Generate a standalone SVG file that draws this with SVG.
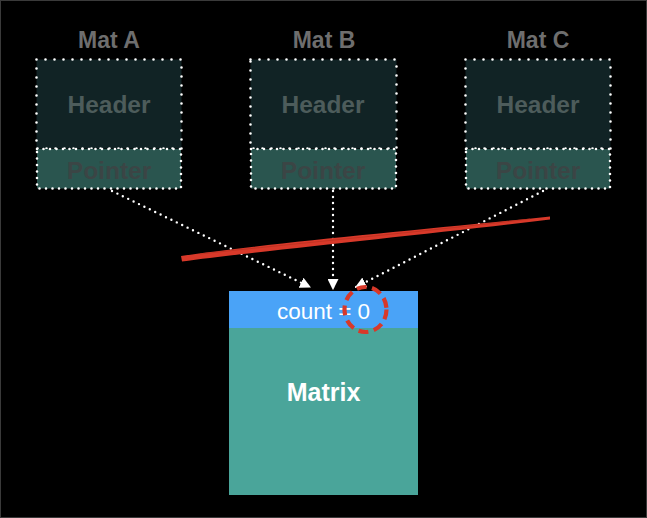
<svg xmlns="http://www.w3.org/2000/svg" width="647" height="518" viewBox="0 0 647 518">
<defs>
<style>
.title{font-family:"Liberation Sans",Arial,sans-serif;font-weight:bold;font-size:23px;fill:#6e6e6e;text-anchor:middle}
.hdr{fill:#112325;stroke:#ffffff;stroke-width:2.6;stroke-dasharray:0 9;stroke-linecap:round}
.ptr{fill:#2a554f;stroke:#ffffff;stroke-width:2.6;stroke-dasharray:0 6.5;stroke-linecap:round}
.htxt{font-family:"Liberation Sans",Arial,sans-serif;font-weight:bold;font-size:24.5px;fill:#4d5c5b;text-anchor:middle}
.ptxt{font-family:"Liberation Sans",Arial,sans-serif;font-weight:bold;font-size:24.5px;fill:#3b4545;text-anchor:middle}
.conn{fill:none;stroke:#ffffff;stroke-width:2.4;stroke-dasharray:0 6;stroke-linecap:round}
</style>
<marker id="arr" viewBox="0 0 10 10" refX="9" refY="5" markerWidth="11" markerHeight="11" markerUnits="userSpaceOnUse" orient="auto">
<path d="M0,0 L10,5 L0,10 z" fill="#ffffff"/>
</marker>
</defs>
<rect x="0" y="0" width="647" height="518" fill="#000000"/>
<rect x="0.5" y="0.5" width="646" height="517" fill="none" stroke="#3a3a3a" stroke-width="1"/>

<g id="matA">
<text class="title" x="109" y="48">Mat A</text>
<rect class="hdr" x="36.5" y="59.5" width="145" height="89"/>
<rect class="ptr" x="37" y="149" width="144" height="39.5"/>
<text class="htxt" x="109" y="113">Header</text>
<text class="ptxt" x="109" y="179">Pointer</text>
</g>

<g id="matB">
<text class="title" x="324" y="48">Mat B</text>
<rect class="hdr" x="250.5" y="59.5" width="146" height="89"/>
<rect class="ptr" x="251" y="149" width="145" height="39.5"/>
<text class="htxt" x="323" y="113">Header</text>
<text class="ptxt" x="323" y="179">Pointer</text>
</g>

<g id="matC">
<text class="title" x="538" y="48">Mat C</text>
<rect class="hdr" x="465.5" y="59.5" width="145" height="89"/>
<rect class="ptr" x="466" y="149" width="144" height="39.5"/>
<text class="htxt" x="538" y="113">Header</text>
<text class="ptxt" x="538" y="179">Pointer</text>
</g>

<g id="matrix">
<rect x="229" y="291" width="189" height="37" fill="#4aa3f7"/>
<rect x="229" y="328" width="189" height="167" fill="#4aa59a"/>
<text x="323.5" y="318.5" font-family="'Liberation Sans',Arial,sans-serif" font-size="22.5" fill="#ffffff" text-anchor="middle">count = 0</text>
<text x="323.5" y="401" font-family="'Liberation Sans',Arial,sans-serif" font-weight="bold" font-size="25" fill="#ffffff" text-anchor="middle">Matrix</text>
</g>

<g id="connectors">
<path class="conn" d="M112,191 L310,287" marker-end="url(#arr)"/>
<path class="conn" d="M333,191 L333,289" marker-end="url(#arr)"/>
<path class="conn" d="M543,191 L356,287" marker-end="url(#arr)"/>
</g>

<g id="annotations">
<path d="M181,256 C260,244 420,230 550,216.5 L550,219.5 C420,235 260,251 182,261.5 Z" fill="#d8392a"/>
<path d="M200,254 C300,243 420,232 530,219" fill="none" stroke="#b8301f" stroke-width="1" opacity="0.7"/>
<ellipse cx="365.5" cy="309.5" rx="21" ry="22.5" fill="none" stroke="#d8392a" stroke-width="4.2" stroke-dasharray="10 5.5"/>
</g>
</svg>
